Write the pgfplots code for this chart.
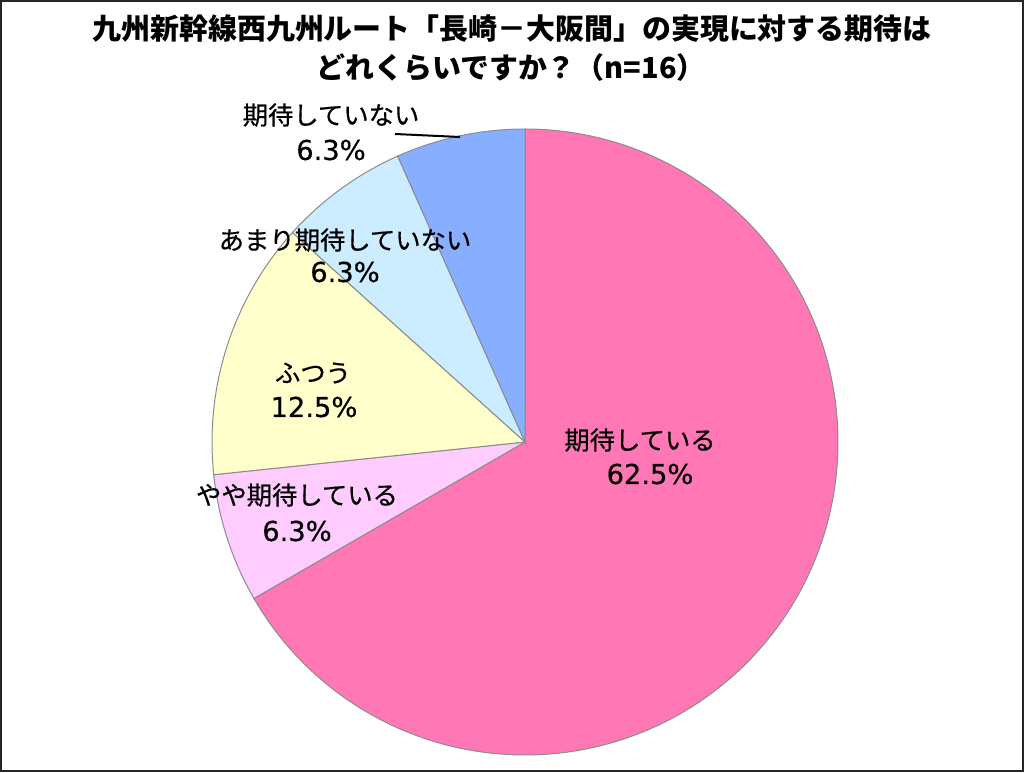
\documentclass[border=0pt]{standalone}
\usepackage{fontspec}
\setmainfont{Noto Sans CJK JP}
\newfontfamily\jplab[FakeBold=0.6]{Noto Sans CJK JP}
\newfontfamily\numfont[FakeBold=0.4]{DejaVu Sans}
\usepackage{pgfplots}
\pgfplotsset{compat=1.18}
\definecolor{cA}{HTML}{FF77B4}
\definecolor{cB}{HTML}{FFCCFF}
\definecolor{cC}{HTML}{FFFFCC}
\definecolor{cD}{HTML}{CCECFF}
\definecolor{cE}{HTML}{88AEFF}
\definecolor{edge}{HTML}{8C8C8C}
% values (percent)
\def\vA{62.5}  % 期待している
\def\vB{6.25}  % やや期待している
\def\vC{12.5}  % ふつう
\def\vD{6.25}  % あまり期待していない
\def\vE{6.25}  % 期待していない
\pgfmathsetmacro\tot{\vA+\vB+\vC+\vD+\vE}
\pgfmathsetmacro\aA{90}
\pgfmathsetmacro\aB{\aA-\vA/\tot*360}
\pgfmathsetmacro\aC{\aB-\vB/\tot*360}
\pgfmathsetmacro\aD{\aC-\vC/\tot*360}
\pgfmathsetmacro\aE{\aD-\vD/\tot*360}
\pgfmathsetmacro\aF{\aE-\vE/\tot*360}
\begin{document}%
\begin{tikzpicture}
\fill[white] (0,0) rectangle (768pt,579pt);
\begin{axis}[at={(393.75pt,247.5pt)}, anchor=center, scale only axis,
  width=469.5pt, height=469.5pt, xmin=-1, xmax=1, ymin=-1, ymax=1,
  hide axis, clip=false]
\addplot[draw=edge, line width=0.75pt, fill=cA, domain=\aB:\aA, samples=200] ({cos(x)},{sin(x)}) -- (axis cs:0,0) -- cycle;
\addplot[draw=edge, line width=0.75pt, fill=cB, domain=\aC:\aB, samples=40] ({cos(x)},{sin(x)}) -- (axis cs:0,0) -- cycle;
\addplot[draw=edge, line width=0.75pt, fill=cC, domain=\aD:\aC, samples=60] ({cos(x)},{sin(x)}) -- (axis cs:0,0) -- cycle;
\addplot[draw=edge, line width=0.75pt, fill=cD, domain=\aE:\aD, samples=40] ({cos(x)},{sin(x)}) -- (axis cs:0,0) -- cycle;
\addplot[draw=edge, line width=0.75pt, fill=cE, domain=\aF:\aE, samples=40] ({cos(x)},{sin(x)}) -- (axis cs:0,0) -- cycle;
\end{axis}
\begin{scope}[yshift=579pt, x=0.75pt, y=-0.75pt]
\node[font=\bfseries\fontsize{21.7}{28}\selectfont] at (512,29) {九州新幹線西九州ルート「長崎－大阪間」の実現に対する期待は};
\node[font=\bfseries\fontsize{21.7}{28}\selectfont] at (511,68) {どれくらいですか？（n=16）};
\tikzset{jp/.style={font=\jplab\fontsize{19}{24}\selectfont, inner sep=0pt},
         pc/.style={font=\numfont\fontsize{20.5}{24}\selectfont, inner sep=0pt}}
\node[jp] at (640,440) {期待している};
\node[pc] at (650,474) {62.5\%};
\node[jp] at (297,495) {やや期待している};
\node[pc] at (297,531) {6.3\%};
\node[jp] at (313,373) {ふつう};
\node[pc] at (314,407) {12.5\%};
\node[jp] at (345,240) {あまり期待していない};
\node[pc] at (345,272) {6.3\%};
\node[jp] at (331,115) {期待していない};
\node[pc] at (331,150) {6.3\%};
\draw[line width=1.5pt] (395,134) -- (460,137);
\end{scope}
\draw[line width=1.5pt, color=black!85] (0.75pt,0.75pt) rectangle (767.25pt,578.25pt);
\pgfresetboundingbox
\useasboundingbox (0,0) rectangle (768pt,579pt);
\end{tikzpicture}%
\end{document}
